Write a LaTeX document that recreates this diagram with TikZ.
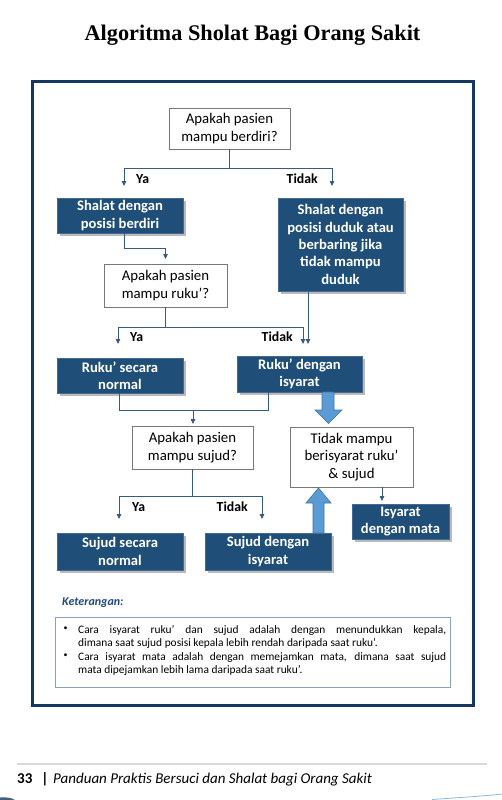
\documentclass[tikz,border=0pt]{standalone}
\usepackage{fontspec}
\setmainfont{Carlito}
\newfontfamily\titlefont{Liberation Serif}
\usetikzlibrary{arrows.meta,shadows,calc}
\definecolor{navy}{RGB}{23,55,94}
\definecolor{boxblue}{RGB}{31,78,121}
\definecolor{boxedge}{RGB}{70,105,145}
\definecolor{connc}{RGB}{55,90,130}
\definecolor{lightarrow}{RGB}{91,155,213}
\definecolor{lightarrowedge}{RGB}{65,113,156}
\definecolor{qedge}{RGB}{120,120,120}
\definecolor{noteedge}{RGB}{140,160,185}
\definecolor{ketcol}{RGB}{31,73,125}
\tikzset{
  qbox/.style={draw=qedge, line width=0.8pt, fill=white, align=center,
    font=\fontsize{14.8}{17.5}\selectfont, inner sep=0pt},
  dbox/.style={draw=boxedge, line width=0.8pt, fill=boxblue, text=white, align=center,
    font=\fontsize{14.6}{17.4}\selectfont\bfseries, inner sep=0pt,
    drop shadow={shadow xshift=2.5pt, shadow yshift=-2.5pt, opacity=0.45, fill=black!60}},
  link/.style={draw=connc, line width=0.8pt},
  linkarrow/.style={link, -{Triangle[length=5pt,width=4.5pt]}},
  lbl/.style={font=\fontsize{13.8}{15}\selectfont\bfseries, inner sep=0pt},
  blockarrow/.style={fill=lightarrow, draw=lightarrowedge, line width=0.6pt},
  notetext/.style={anchor=north west, text width=368pt, align=justify, inner sep=0pt,
    font=\fontsize{11.4}{13.6}\selectfont},
  bullet/.style={anchor=north, inner sep=0pt, font=\fontsize{8}{10}\selectfont},
}
\begin{document}
\begin{tikzpicture}[x=1pt,y=-1pt]
\useasboundingbox (0,0) rectangle (502,800);
% title
\node[font=\titlefont\bfseries\fontsize{22.3}{26}\selectfont, anchor=base] (title) at (252.5,41) {Algoritma Sholat Bagi Orang Sakit};
% frame
\draw[navy, line width=3pt] (32,81) rectangle (473,705);
% nodes
\node[qbox, minimum width=121pt, minimum height=41pt] (q1) at (229.5,128.5) {Apakah pasien\\mampu berdiri?};
\node[dbox, minimum width=126pt, minimum height=35pt] (sb) at (120,215.5) {Shalat dengan\\posisi berdiri};
\node[dbox, minimum width=125pt, minimum height=93pt] (sd) at (340.5,244.5) {Shalat dengan\\posisi duduk atau\\berbaring jika\\tidak mampu\\duduk};
\node[qbox, minimum width=123pt, minimum height=43pt] (q2) at (165.5,285.5) {Apakah pasien\\mampu ruku’?};
\node[dbox, minimum width=126pt, minimum height=35pt] (rn) at (120,375.5) {Ruku’ secara\\normal};
\node[dbox, minimum width=125pt, minimum height=36pt] (ri) at (299.5,374) {Ruku’ dengan\\isyarat};
\node[qbox, minimum width=121pt, minimum height=43pt] (q3) at (192.5,447.5) {Apakah pasien\\mampu sujud?};
\node[qbox, minimum width=123pt, minimum height=60pt] (tm) at (351.5,457) {Tidak mampu\\berisyarat ruku’\\\&\ sujud};
\node[dbox, minimum width=97pt, minimum height=35pt] (im) at (400.5,521.5) {Isyarat\\dengan mata};
\node[dbox, minimum width=126pt, minimum height=37pt] (jn) at (120,551.5) {Sujud secara\\normal};
\node[dbox, minimum width=126pt, minimum height=37pt] (ji) at (268,551.5) {Sujud dengan\\isyarat};
% labels
\node[lbl, anchor=west] (ya1) at (136,179) {Ya};
\node[lbl, anchor=east] (td1) at (318,179) {Tidak};
\node[lbl, anchor=west] (ya2) at (130,337) {Ya};
\node[lbl, anchor=east] (td2) at (293,337) {Tidak};
\node[lbl, anchor=west] (ya3) at (132,507) {Ya};
\node[lbl, anchor=east] (td3) at (248,507) {Tidak};
% helper x coordinates
\coordinate (x124) at (124,0);
\coordinate (x119) at (119,0);
\coordinate (x268) at (268,0);
% connectors: question 1
\coordinate (j1) at (229.5,168);
\coordinate (e1a) at (124,186);
\coordinate (e1b) at (332,186);
\draw[link] (q1.south) -- (j1);
\draw[linkarrow] (j1) -| (e1a);
\draw[linkarrow] (j1) -| (e1b);
% shalat berdiri -> q2
\coordinate (e2) at (165.5,259);
\coordinate (k2) at (124,248);
\draw[linkarrow] (sb.south -| x124) -- (k2) -| (e2);
% question 2
\coordinate (j2) at (165.5,327);
\coordinate (e3a) at (118,344);
\coordinate (e3b) at (303,344);
\draw[link] (q2.south) -- (j2);
\draw[linkarrow] (j2) -| (e3a);
\draw[linkarrow] (j2) -| (e3b);
\coordinate (e4) at (308,344);
\draw[linkarrow] (sd.south -| e4) -- (e4);
% ruku boxes -> q3
\coordinate (j3) at (193,410);
\coordinate (e5) at (193,424);
\draw[link] (rn.south -| x119) |- (j3);
\draw[link] (ri.south -| x268) |- (j3);
\draw[linkarrow] (j3) -- (e5);
% question 3
\coordinate (j4) at (192.5,496);
\coordinate (e6a) at (119,519);
\coordinate (e6b) at (262,519);
\draw[link] (q3.south) -- (j4);
\draw[linkarrow] (j4) -| (e6a);
\draw[linkarrow] (j4) -| (e6b);
% tidak mampu -> isyarat mata
\coordinate (e7) at (382,501);
\draw[linkarrow] (tm.south -| e7) -- (e7);
% block arrows
\draw[blockarrow] (322,392) -- (334,392) -- (334,410) -- (342,410) -- (328.5,423.5) -- (315,410) -- (322,410) -- cycle;
\draw[blockarrow] (313,533) -- (324,533) -- (324,503) -- (331,503) -- (318.5,488) -- (306,503) -- (313,503) -- cycle;
% keterangan
\node[anchor=west, inner sep=0pt, font=\fontsize{12}{14}\selectfont\bfseries\itshape, text=ketcol] (ket) at (62,603) {Keterangan:};
\draw[noteedge, line width=0.8pt] (55,617) rectangle (450,687);
\node[notetext] (n1) at (78,625) {Cara isyarat ruku’ dan sujud adalah dengan menundukkan kepala,\linebreak dimana saat sujud posisi kepala lebih rendah daripada saat ruku’.};
\node[notetext] (n2) at (78,652) {Cara isyarat mata adalah dengan memejamkan mata, dimana saat sujud\linebreak mata dipejamkan lebih lama daripada saat ruku’.};
\node[bullet] (b1) at (65.5,627) {•};
\node[bullet] (b2) at (65.5,654) {•};
% footer
\draw[black!15, line width=1.5pt] (17,764) -- (487,764);
\node[anchor=base west, inner sep=0pt, font=\fontsize{15}{18}\selectfont\bfseries] (pg) at (17,783) {33};
\node[anchor=base, inner sep=0pt, font=\fontsize{15}{18}\selectfont\bfseries] (bar) at (45,783) {|};
\node[anchor=base west, inner sep=0pt, font=\fontsize{15}{18}\selectfont\itshape] (foot) at (53,783) {Panduan Praktis Bersuci dan Shalat bagi Orang Sakit};
% bottom decorations
\fill[navy!80] (0,797.5) .. controls (6,797) and (11,797.5) .. (15,800) -- (0,800) -- cycle;
\draw[lightarrow!70, line width=0.8pt] (432,799.5) .. controls (460,797.5) and (485,796) .. (502,794);
\end{tikzpicture}
\end{document}
